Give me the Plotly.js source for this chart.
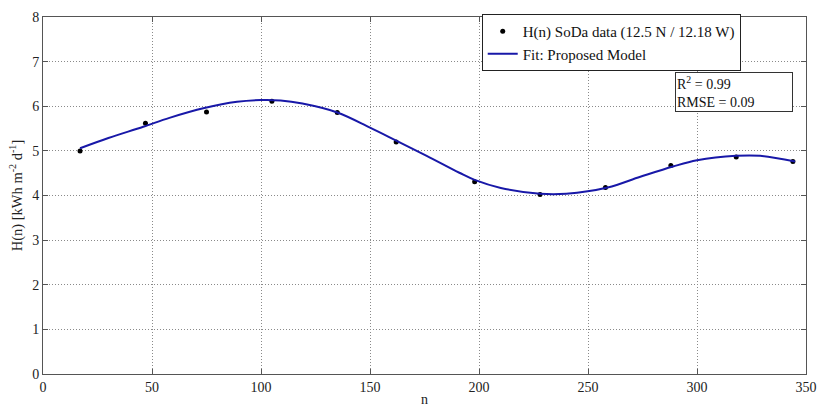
<!DOCTYPE html>
<html>
<head>
<meta charset="utf-8">
<script src="https://cdn.plot.ly/plotly-3.0.1.min.js"></script>
<style>html,body{margin:0;padding:0;background:#fff;}#chart{width:817px;height:407px;}</style>
</head>
<body>
<div id="chart"></div>
<script>
// SoDa data points (day of year n, H(n))
var dataN = [17, 47, 75, 105, 135, 162, 198, 228, 258, 288, 318, 344];
var dataH = [5.00, 5.62, 5.87, 6.11, 5.86, 5.20, 4.31, 4.02, 4.18, 4.67, 4.86, 4.76];

// Fitted curve
var fitN = [17, 30, 46, 58, 74, 89, 100, 109, 119, 135, 150, 162, 176, 191, 198, 210, 228, 240, 259, 274, 289, 300, 318, 329, 345];
var fitH = [5.06, 5.29, 5.54, 5.74, 5.96, 6.10, 6.14, 6.13, 6.06, 5.86, 5.52, 5.23, 4.89, 4.51, 4.35, 4.17, 4.04, 4.04, 4.18, 4.42, 4.65, 4.79, 4.89, 4.89, 4.76];

var xTicks = [0, 50, 100, 150, 200, 250, 300, 350];
var yTicks = [0, 1, 2, 3, 4, 5, 6, 7, 8];

var fontFam = '"Liberation Serif", "Times New Roman", serif';

var traces = [
  {
    x: dataN, y: dataH, type: 'scatter', mode: 'markers',
    name: 'H(n) SoDa data (12.5 N / 12.18 W)',
    marker: {color: '#000000', size: 5}
  },
  {
    x: fitN, y: fitH, type: 'scatter', mode: 'lines',
    name: 'Fit: Proposed Model',
    line: {color: '#1818a8', width: 2, shape: 'spline', smoothing: 1}
  }
];

var axisCommon = {
  showline: true, linecolor: '#555555', linewidth: 1, mirror: 'ticks',
  ticks: 'inside', ticklen: 5, tickcolor: '#555555',
  showgrid: true, gridcolor: '#8a8a8a', griddash: '1px,2px', gridwidth: 1,
  zeroline: false,
  tickfont: {family: fontFam, size: 14, color: '#222222'}
};

var layout = {
  width: 817, height: 407,
  margin: {l: 43, r: 11, t: 17, b: 33},
  paper_bgcolor: '#ffffff', plot_bgcolor: '#ffffff',
  font: {family: fontFam, size: 14, color: '#222222'},
  showlegend: true,
  legend: {
    x: 0.575, y: 1.0084, xanchor: 'left', yanchor: 'top',
    bgcolor: '#ffffff', bordercolor: '#222222', borderwidth: 1,
    font: {family: fontFam, size: 15, color: '#111111'},
    tracegroupgap: 0
  },
  xaxis: Object.assign({}, axisCommon, {
    range: [0, 350], tickvals: xTicks, ticktext: xTicks.map(String),
    title: {text: 'n', font: {family: fontFam, size: 14, color: '#222222'}, standoff: 2}
  }),
  yaxis: Object.assign({}, axisCommon, {
    range: [0, 8], tickvals: yTicks, ticktext: yTicks.map(String),
    title: {text: 'H(n) [kWh m<sup>-2</sup> d<sup>-1</sup>]', font: {family: fontFam, size: 14.5, color: '#222222'}, standoff: 6}
  }),
  annotations: [{
    xref: 'paper', yref: 'paper', x: 0.828, y: 0.846, xanchor: 'left', yanchor: 'top',
    text: 'R<sup>2</sup> = 0.99<br>RMSE = 0.09', align: 'left', showarrow: false,
    width: 114,
    font: {family: fontFam, size: 14, color: '#111111'},
    bgcolor: '#ffffff', bordercolor: '#333333', borderwidth: 1, borderpad: 1
  }]
};

Plotly.newPlot('chart', traces, layout, {displayModeBar: false, staticPlot: true});
</script>
</body>
</html>
